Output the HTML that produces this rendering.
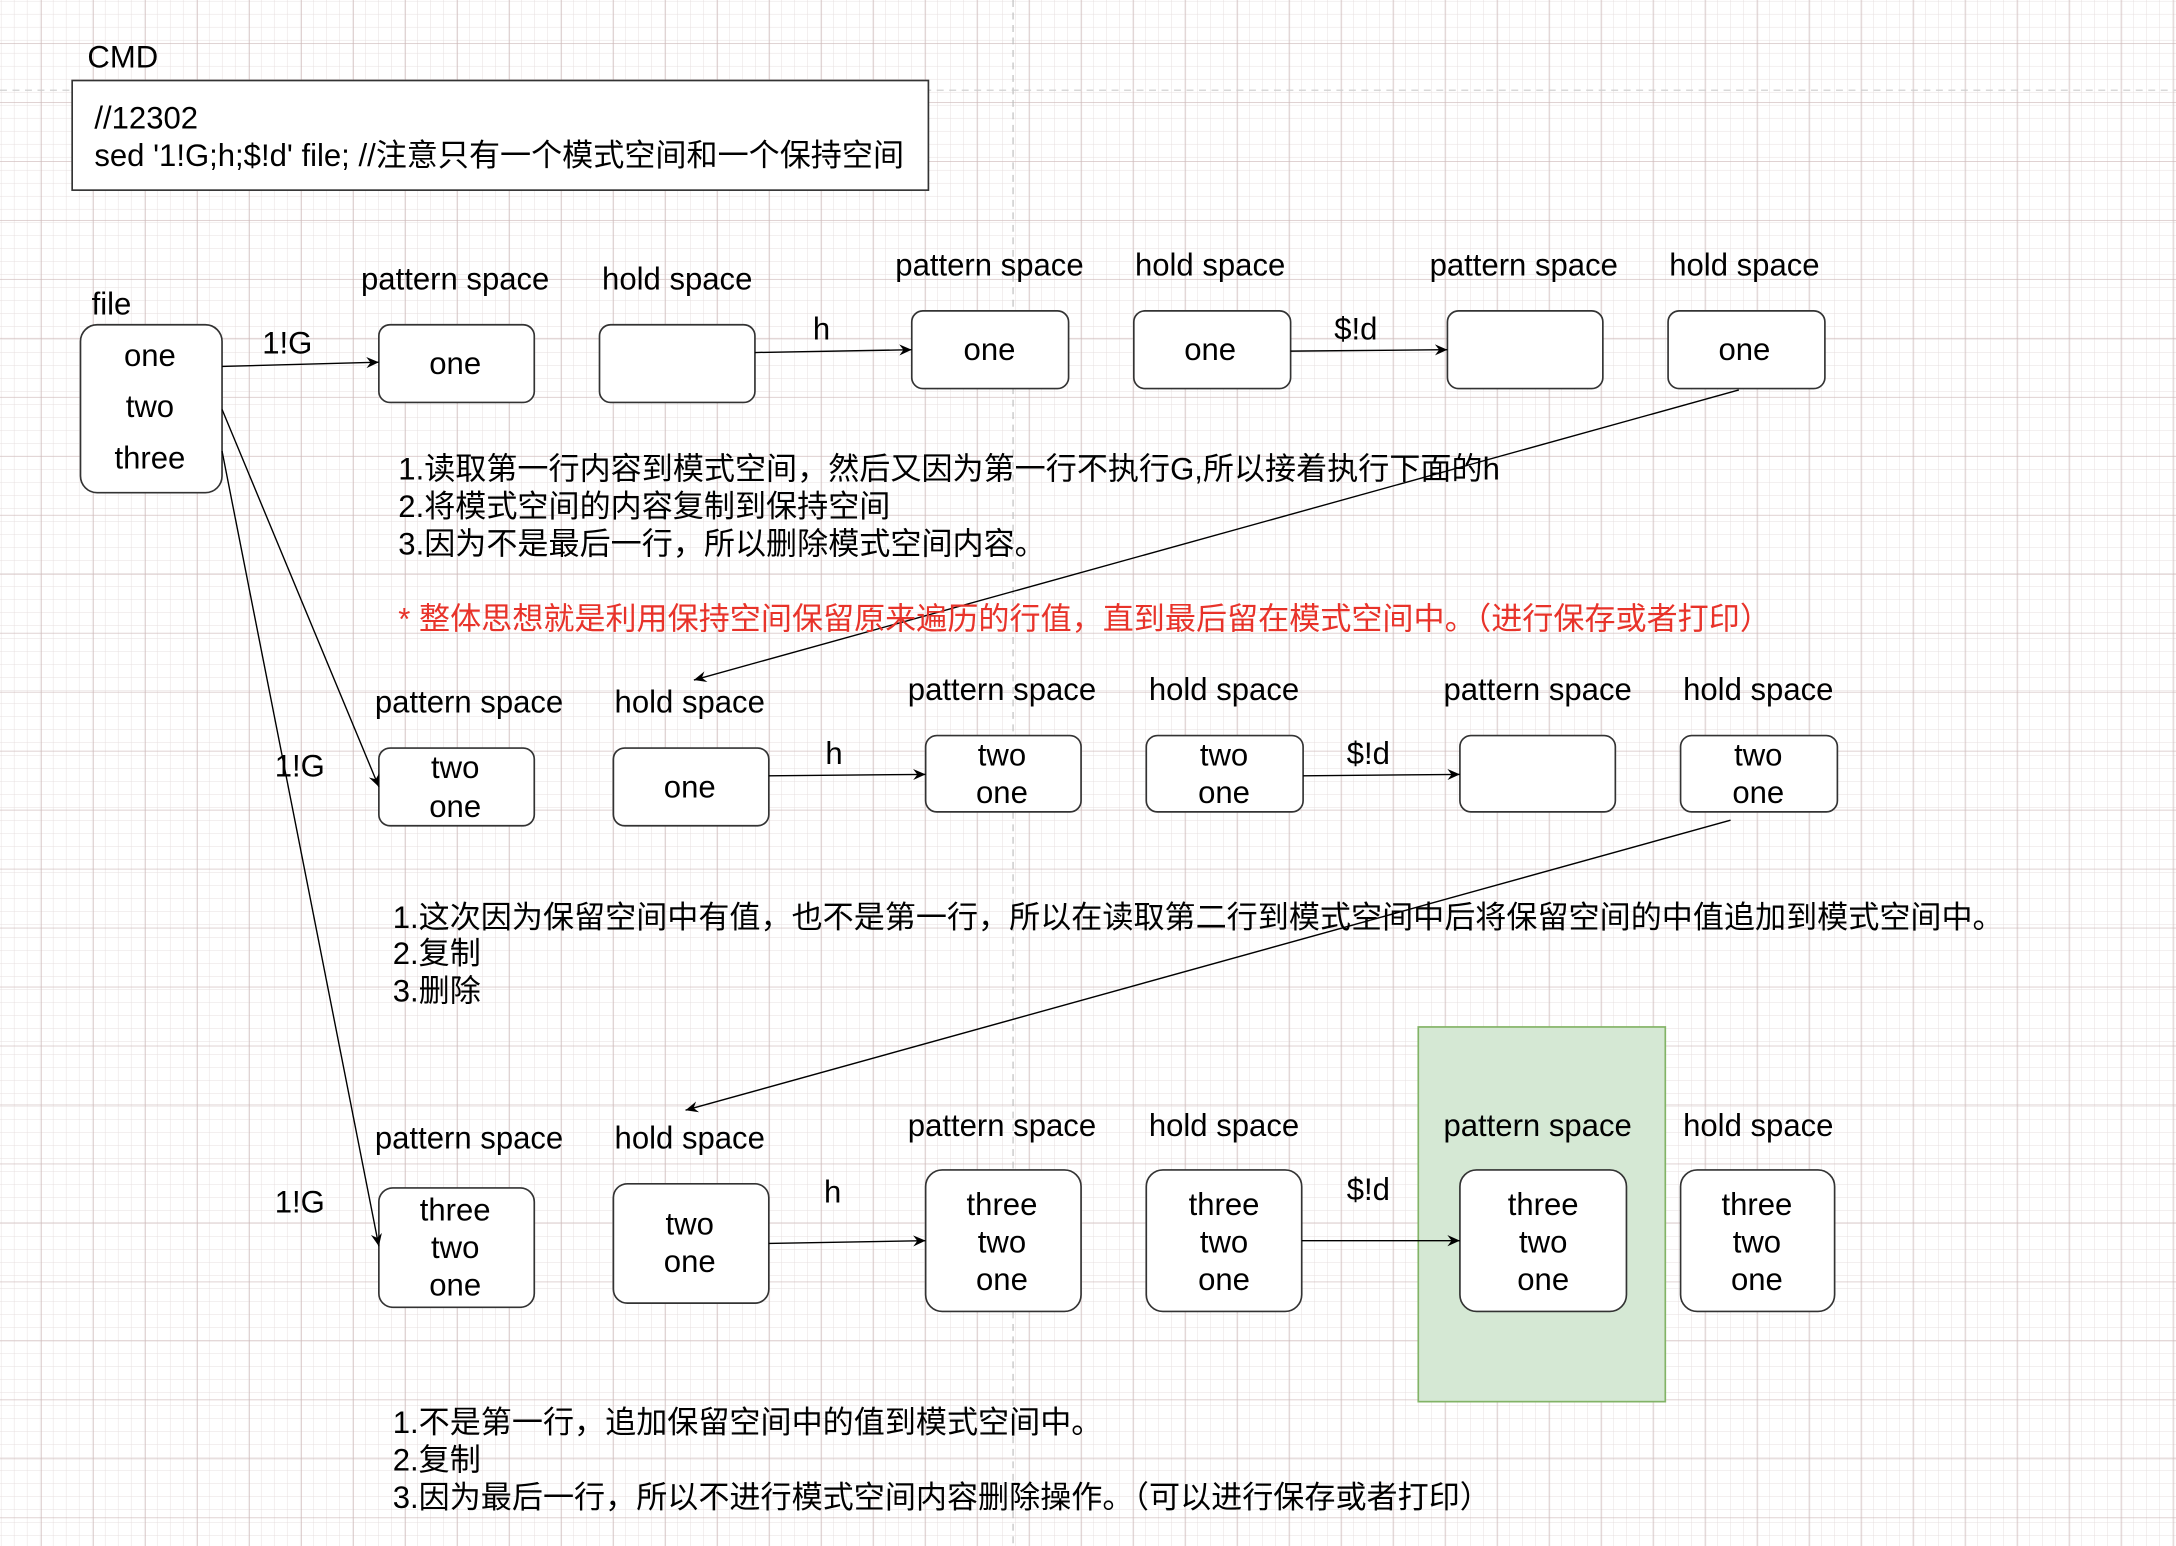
<!DOCTYPE html>
<html><head><meta charset="utf-8"><style>
html,body{margin:0;padding:0;background:#fff;width:2176px;height:1546px;overflow:hidden}
text{font-family:"Liberation Sans","Noto Sans CJK SC",sans-serif;font-size:22.4px;fill:#000}
</style></head><body>
<svg width="2176" height="1546" viewBox="0 0 1568 1114" xmlns="http://www.w3.org/2000/svg">
<defs>
<pattern id="minor" width="9.37" height="9.37" patternUnits="userSpaceOnUse" x="1" y="1">
<path d="M9.37 0V9.37M0 9.37H9.37" stroke="#e6dede" stroke-width="0.7" fill="none"/></pattern>
<pattern id="major" width="37.48" height="42.5" patternUnits="userSpaceOnUse" x="29.5" y="31">
<path d="M0 0V42.5M0 0H37.48" stroke="#cdb8b8" stroke-width="0.9" fill="none"/></pattern>
<marker id="ar" markerWidth="10" markerHeight="10" refX="9" refY="5" orient="auto" markerUnits="userSpaceOnUse">
<path d="M0 1 L9 5 L0 9 L3 5 Z" fill="#000"/></marker>
</defs>
<rect width="1568" height="1114" fill="#fff"/>
<rect width="1568" height="1114" fill="url(#minor)"/>
<rect width="1568" height="1114" fill="url(#major)"/>
<line x1="730" y1="0" x2="730" y2="1114" stroke="#bbb" stroke-dasharray="5 4" stroke-width="0.8"/>
<line x1="0" y1="65" x2="1568" y2="65" stroke="#ccc" stroke-dasharray="5 4" stroke-width="0.8"/>

<g stroke="#333" stroke-width="1.2" fill="#fff">
<rect x="52" y="58" width="617" height="79"/>
<rect x="58" y="234" width="102" height="121" rx="12"/>
<rect x="273" y="234" width="112" height="56" rx="8"/>
<rect x="432" y="234" width="112" height="56" rx="8"/>
<rect x="657" y="224" width="113" height="56" rx="8"/>
<rect x="817" y="224" width="113" height="56" rx="8"/>
<rect x="1043" y="224" width="112" height="56" rx="8"/>
<rect x="1202" y="224" width="113" height="56" rx="8"/>
<rect x="273" y="539" width="112" height="56" rx="8"/>
<rect x="442" y="539" width="112" height="56" rx="8"/>
<rect x="667" y="530" width="112" height="55" rx="8"/>
<rect x="826" y="530" width="113" height="55" rx="8"/>
<rect x="1052" y="530" width="112" height="55" rx="8"/>
<rect x="1211" y="530" width="113" height="55" rx="8"/>
</g>
<rect x="1022" y="740" width="178" height="270" fill="#d5e8d4" stroke="#82b366" stroke-width="1.2"/>
<g stroke="#333" stroke-width="1.2" fill="#fff">
<rect x="273" y="856" width="112" height="86" rx="10"/>
<rect x="442" y="853" width="112" height="86" rx="10"/>
<rect x="667" y="843" width="112" height="102" rx="12"/>
<rect x="826" y="843" width="112" height="102" rx="12"/>
<rect x="1052" y="843" width="120" height="102" rx="12"/>
<rect x="1211" y="843" width="111" height="102" rx="12"/>
</g>

<g stroke="#000" stroke-width="1" fill="none" marker-end="url(#ar)">
<line x1="160" y1="264" x2="273" y2="261"/>
<line x1="544" y1="254" x2="657" y2="252"/>
<line x1="930" y1="253" x2="1043" y2="252"/>
<line x1="1253" y1="281" x2="500" y2="490"/>
<line x1="160" y1="295" x2="273" y2="567"/>
<line x1="554" y1="559" x2="667" y2="558"/>
<line x1="939" y1="559" x2="1052" y2="558"/>
<line x1="1247" y1="591" x2="494" y2="800"/>
<line x1="160" y1="325" x2="273" y2="898"/>
<line x1="554" y1="896" x2="667" y2="894"/>
<line x1="938" y1="894" x2="1052" y2="894"/>
</g>

<g dominant-baseline="central">
<text x="63" y="41">CMD</text>
<text x="68" y="85">//12302</text>
<text x="68" y="112">sed '1!G;h;$!d' file; //注意只有一个模式空间和一个保持空间</text>
<text x="66" y="219">file</text>
</g>
<g dominant-baseline="central" text-anchor="middle">
<text x="108" y="256">one</text><text x="108" y="293">two</text><text x="108" y="330">three</text>
<text x="207" y="247">1!G</text>
<text x="328" y="201">pattern space</text><text x="328" y="262">one</text>
<text x="488" y="201">hold space</text>
<text x="592" y="237">h</text>
<text x="713" y="191">pattern space</text><text x="713" y="252">one</text>
<text x="872" y="191">hold space</text><text x="872" y="252">one</text>
<text x="977" y="237">$!d</text>
<text x="1098" y="191">pattern space</text>
<text x="1257" y="191">hold space</text><text x="1257" y="252">one</text>

<text x="216" y="552">1!G</text>
<text x="338" y="506">pattern space</text><text x="328" y="553">two</text><text x="328" y="581">one</text>
<text x="497" y="506">hold space</text><text x="497" y="567">one</text>
<text x="601" y="543">h</text>
<text x="722" y="497">pattern space</text><text x="722" y="544">two</text><text x="722" y="571">one</text>
<text x="882" y="497">hold space</text><text x="882" y="544">two</text><text x="882" y="571">one</text>
<text x="986" y="543">$!d</text>
<text x="1108" y="497">pattern space</text>
<text x="1267" y="497">hold space</text><text x="1267" y="544">two</text><text x="1267" y="571">one</text>

<text x="216" y="866">1!G</text>
<text x="338" y="820">pattern space</text><text x="328" y="872">three</text><text x="328" y="899">two</text><text x="328" y="926">one</text>
<text x="497" y="820">hold space</text><text x="497" y="882">two</text><text x="497" y="909">one</text>
<text x="600" y="859">h</text>
<text x="722" y="811">pattern space</text><text x="722" y="868">three</text><text x="722" y="895">two</text><text x="722" y="922">one</text>
<text x="882" y="811">hold space</text><text x="882" y="868">three</text><text x="882" y="895">two</text><text x="882" y="922">one</text>
<text x="986" y="857">$!d</text>
<text x="1108" y="811">pattern space</text><text x="1112" y="868">three</text><text x="1112" y="895">two</text><text x="1112" y="922">one</text>
<text x="1267" y="811">hold space</text><text x="1266" y="868">three</text><text x="1266" y="895">two</text><text x="1266" y="922">one</text>
</g>
<g dominant-baseline="central">
<text x="287" y="338">1.读取第一行内容到模式空间，然后又因为第一行不执行G,所以接着执行下面的h</text>
<text x="287" y="365">2.将模式空间的内容复制到保持空间</text>
<text x="287" y="392">3.因为不是最后一行，所以删除模式空间内容。</text>
<text x="287" y="446" style="fill:#e8332a">* 整体思想就是利用保持空间保留原来遍历的行值，直到最后留在模式空间中。（进行保存或者打印）</text>
<text x="283" y="661">1.这次因为保留空间中有值，也不是第一行，所以在读取第二行到模式空间中后将保留空间的中值追加到模式空间中。</text>
<text x="283" y="687">2.复制</text>
<text x="283" y="714">3.删除</text>
<text x="283" y="1025">1.不是第一行，追加保留空间中的值到模式空间中。</text>
<text x="283" y="1052">2.复制</text>
<text x="283" y="1079">3.因为最后一行，所以不进行模式空间内容删除操作。（可以进行保存或者打印）</text>
</g>
</svg>
</body></html>
